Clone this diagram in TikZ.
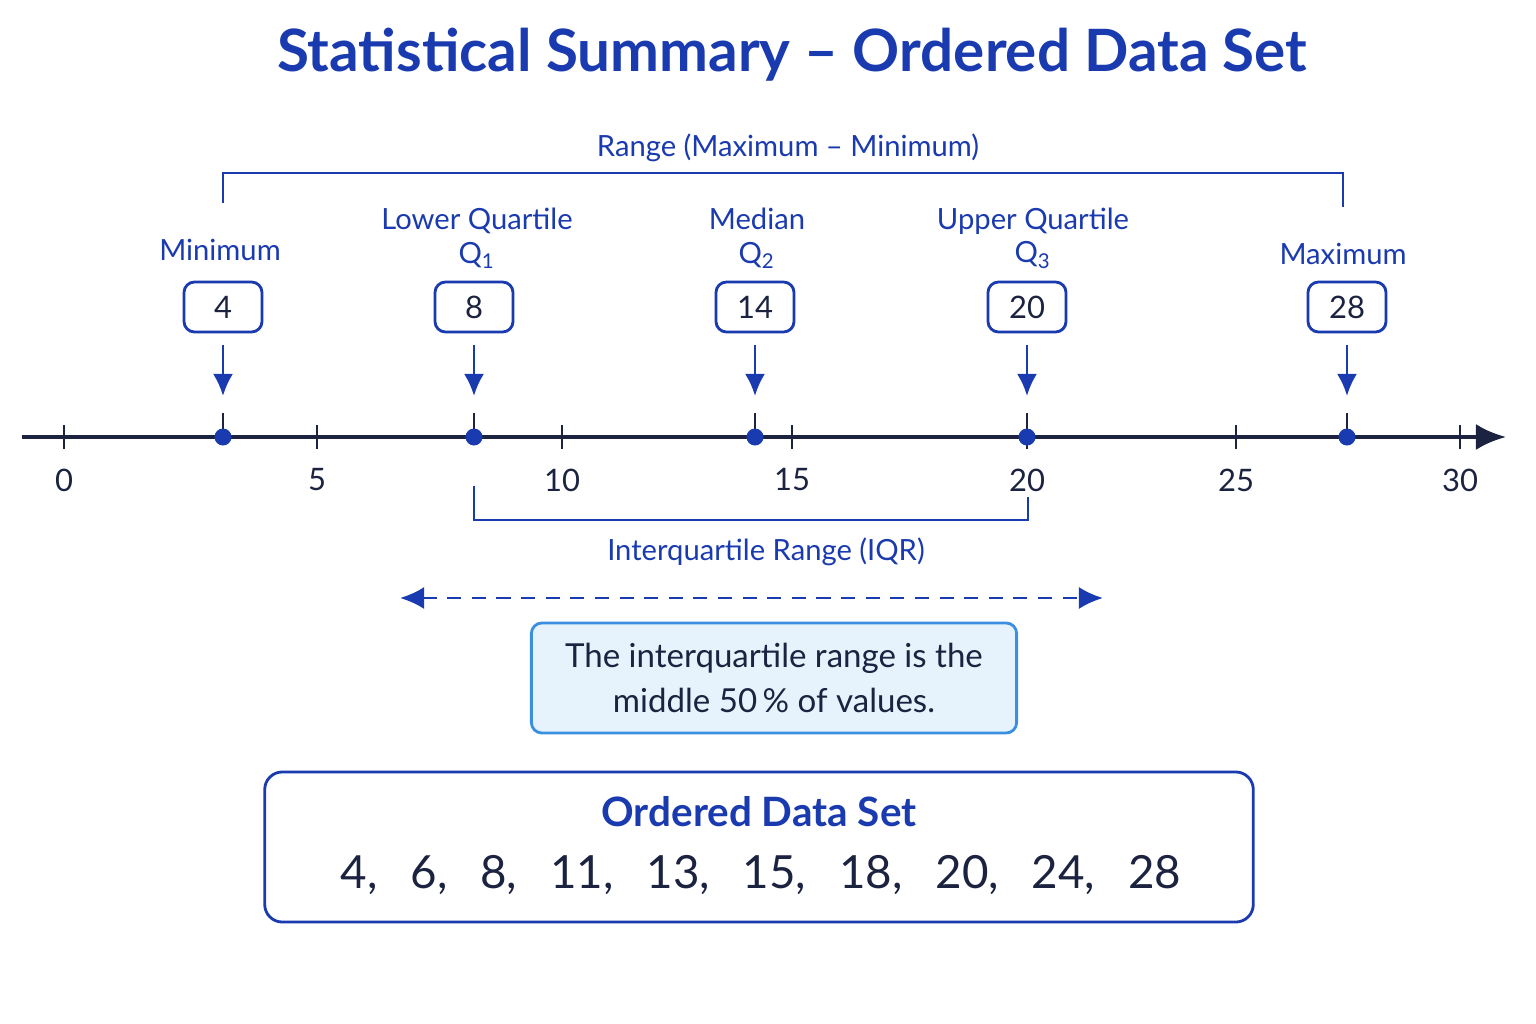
\documentclass[tikz,border=0pt]{standalone}
\usepackage{fontspec}
\setmainfont{Lato}
\usetikzlibrary{arrows.meta,positioning}
\definecolor{navy}{HTML}{1A3AAF}
\definecolor{ink}{HTML}{1B2340}
\definecolor{pale}{HTML}{E6F3FD}
\definecolor{edge}{HTML}{3A8FE0}
\newcommand{\gapv}{\hspace{0.72em}}
\tikzset{
  lbl/.style={font=\fontsize{8.3}{9.6}\selectfont, text=navy, align=center},
  valbox/.style={draw=navy, thick, rounded corners=3pt, minimum width=0.78cm, minimum height=0.5cm, font=\fontsize{8.8}{10}\selectfont, text=ink},
  dot/.style={circle, fill=navy, inner sep=0pt, minimum size=0.17cm},
  down/.style={-{Latex[length=2.2mm,width=2mm]}, thick, navy},
  tick/.style={font=\fontsize{8.8}{10}\selectfont, text=ink}
}
\begin{document}
\begin{tikzpicture}[x=0.01cm, y=-0.01cm]
  \useasboundingbox (0,0) rectangle (1536,1024);
  \node[font=\fontsize{16.6}{19}\selectfont\bfseries, text=navy] (title) at (792,55) {Statistical Summary – Ordered Data Set};

  % axis
  \coordinate (ax0) at (22,437);
  \coordinate (ax1) at (1506,437);
  \draw[very thick, ink, -{Latex[length=3mm,width=2.6mm]}] (ax0) -- (ax1);
  \foreach \x/\t in {64/0, 317/5, 562/10, 792/15, 1027/20, 1236/25, 1460/30} {
    \draw[thick, ink] (\x,425) -- (\x,449);
    \node[tick] (t\t) at (\x,480) {\t};
  }

  % points, boxes and arrows
  \foreach \x/\v in {223/4, 474/8, 755/14, 1027/20, 1347/28} {
    \draw[thick, ink] (\x,413) -- (\x,437);
    \node[dot] (p\v) at (\x,437) {};
    \node[valbox] (b\v) at (\x,307) {\v};
    \coordinate (a\v) at (\x,396);
    \draw[down] (b\v.south) ++(0,12) -- (a\v);
  }

  \node[lbl] (lmin) at (220,250) {Minimum};
  \node[lbl] (lq1) at (477,238) {Lower Quartile\\Q\textsubscript{1}};
  \node[lbl] (lq2) at (757,238) {Median\\Q\textsubscript{2}};
  \node[lbl] (lq3) at (1033,238) {Upper Quartile\\Q\textsubscript{3}};
  \node[lbl] (lmax) at (1343,254) {Maximum};

  % range bracket
  \coordinate (r0) at (223,203);
  \coordinate (r1) at (1343,207);
  \draw[thick, navy] (r0) |- (783,173) -| (r1);
  \node[lbl] (lrange) at (788,148) {Range (Maximum – Minimum)};

  % IQR bracket
  \coordinate (i0) at (474,486);
  \coordinate (i1) at (1028,497);
  \draw[thick, navy] (i0) |- (750,520) -| (i1);
  \node[lbl] (liqr) at (766,552) {Interquartile Range (IQR)};

  \coordinate (d0) at (400,598);
  \coordinate (d1) at (1103,598);
  \draw[thick, navy, dash pattern=on 4pt off 3pt, {Latex[length=2.4mm,width=2.2mm]}-{Latex[length=2.4mm,width=2.2mm]}] (d0) -- (d1);

  \node[draw=edge, thick, fill=pale, rounded corners=3pt, minimum width=4.85cm, minimum height=1.1cm,
        align=center, text=ink, font=\fontsize{9.4}{13}\selectfont] (note) at (774,678)
        {The interquartile range is the\\middle 50\,\% of values.};

  % ordered data
  \node[draw=navy, thick, rounded corners=5pt, minimum width=9.88cm, minimum height=1.5cm] (data) at (759,847) {};
  \node[font=\fontsize{11.5}{13}\selectfont\bfseries, text=navy] (dtitle) at (759,812) {Ordered Data Set};
  \node[font=\fontsize{13}{15}\selectfont, text=ink] (dvals) at (761,875)
        {4,\gapv 6,\gapv 8,\gapv 11,\gapv 13,\gapv 15,\gapv 18,\gapv 20,\gapv 24,\gapv 28};
\end{tikzpicture}
\end{document}
